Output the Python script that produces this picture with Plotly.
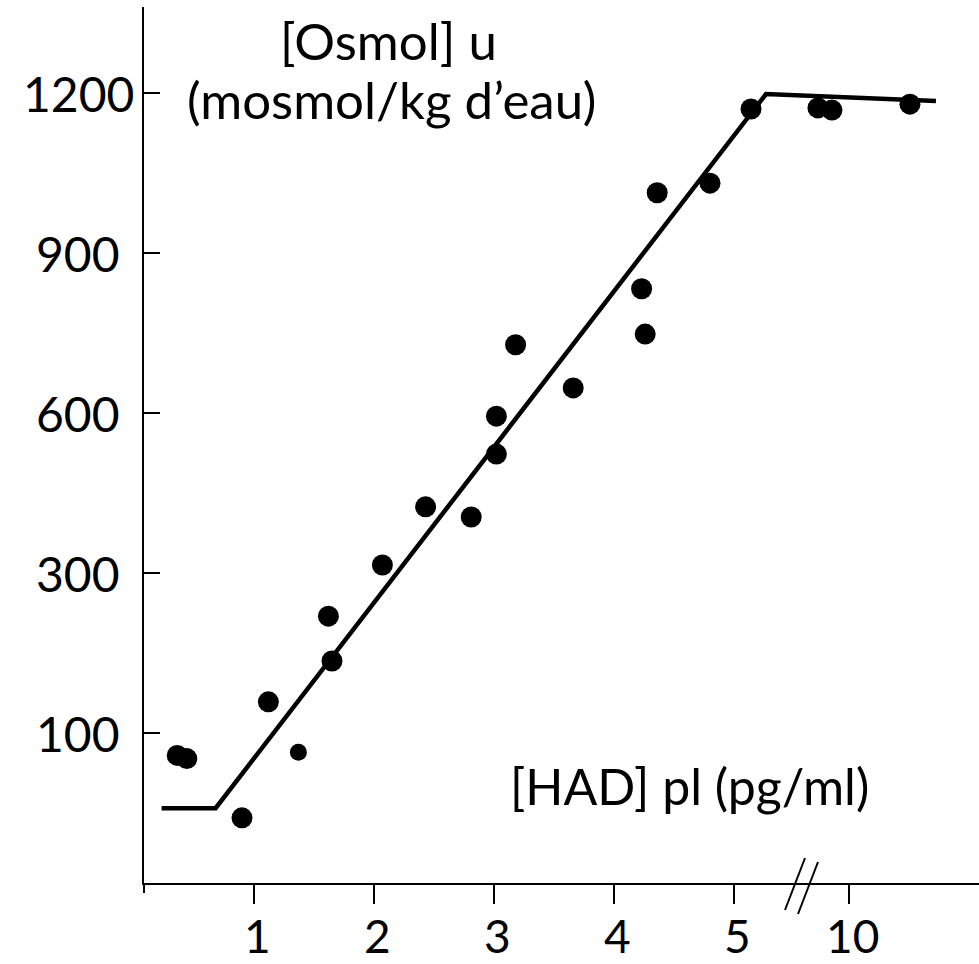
import numpy as np
import plotly.graph_objects as go

# ---------------- data ----------------
had = [0.36, 0.44, 0.90, 1.12, 1.62, 1.65, 2.07, 2.43, 2.81, 3.02, 3.02,
       3.18, 3.66, 4.26, 4.23, 4.36, 4.80, 5.74, 8.65, 9.26, 12.65]
osm = [86, 84, 47, 139, 246, 190, 315, 424, 405, 523, 594,
       728, 647, 748, 833, 1013, 1031, 1170, 1172, 1168, 1179]
had_small = [1.37]
osm_small = [88]

fit_had = [0.23, 0.68, 6.39, 13.78]
fit_osm = [53, 53, 1198, 1185]

x_tick_vals = [1, 2, 3, 4, 5, 10]
x_tick_text = ["1", "2", "3", "4", "5", "10"]
y_tick_vals = [0, 100, 300, 600, 900, 1200]
y_tick_text = ["0", "100", "300", "600", "900", "1200"]

# ---------------- axis scales (broken / non-linear) ----------------
BREAK_AT = 5.0
BREAK_SCALE = 0.9583 / 5.0   # compressed scale after the axis break


def x_pos(x):
    x = np.asarray(x, dtype=float)
    return np.where(x <= BREAK_AT, x, BREAK_AT + (x - BREAK_AT) * BREAK_SCALE)


def y_pos(v):
    v = np.asarray(v, dtype=float)
    idx = np.arange(len(y_tick_vals), dtype=float)
    p = np.interp(v, y_tick_vals, idx)
    over = v > y_tick_vals[-1]
    p = np.where(over, idx[-1] + (v - y_tick_vals[-1]) / 300.0, p)
    return p


FONT = "Lato"
FS = 48
FS_X = 46
FS_TITLE = 51

W, H = 979, 964
ML, MR, MT, MB = 144, 0, 7, 81
PW, PH = W - ML - MR, H - MT - MB


def px_x(px):
    return (px - ML) / PW


def px_y(py):
    return (H - MB - py) / PH


fig = go.Figure()

fig.add_trace(go.Scatter(
    x=x_pos(fit_had), y=y_pos(fit_osm), mode="lines",
    line=dict(color="black", width=4.5), hoverinfo="skip", showlegend=False,
))
fig.add_trace(go.Scatter(
    x=x_pos(had), y=y_pos(osm), mode="markers",
    marker=dict(color="black", size=21), showlegend=False,
))
fig.add_trace(go.Scatter(
    x=x_pos(had_small), y=y_pos(osm_small), mode="markers",
    marker=dict(color="black", size=17), showlegend=False,
))

# y tick labels as annotations (label "0" sits below the x axis line)
for v, t in zip(y_tick_vals, y_tick_text):
    fig.add_annotation(
        x=px_x(78), xref="paper", y=float(y_pos(v)), yref="y", text=t,
        showarrow=False, xanchor="center", yanchor="middle",
        font=dict(family=FONT, size=FS, color="black"),
    )

# x tick labels as annotations
for v, t in zip(x_tick_vals, x_tick_text):
    fig.add_annotation(
        x=float(x_pos(v)) + 0.025, xref="x", y=px_y(935), yref="paper", text=t,
        showarrow=False, xanchor="center", yanchor="middle",
        font=dict(family=FONT, size=FS_X, color="black"),
    )

# axis titles
fig.add_annotation(x=px_x(388), y=px_y(40), xref="paper", yref="paper",
                   text="[Osmol] u", showarrow=False, xanchor="center",
                   yanchor="middle", font=dict(family=FONT, size=FS_TITLE, color="black"))
fig.add_annotation(x=px_x(391), y=px_y(99), xref="paper", yref="paper",
                   text="(mosmol/kg d’eau)", showarrow=False, xanchor="center",
                   yanchor="middle", font=dict(family=FONT, size=FS_TITLE, color="black"))
fig.add_annotation(x=px_x(689), y=px_y(786), xref="paper", yref="paper",
                   text="[HAD] pl (pg/ml)", showarrow=False, xanchor="center",
                   yanchor="middle", font=dict(family=FONT, size=50, color="black"))

# axis break marks
for (x0, y0, x1, y1) in [(785, 910, 805, 858), (798, 914, 818, 862)]:
    fig.add_shape(type="line", xref="paper", yref="paper",
                  x0=px_x(x0), y0=px_y(y0), x1=px_x(x1), y1=px_y(y1),
                  line=dict(color="black", width=2))
# small stub of the y axis below the x axis
fig.add_shape(type="line", xref="paper", yref="paper",
              x0=0, y0=0, x1=0, y1=px_y(893), line=dict(color="black", width=2))

x0_pos = (ML - 134) / 120
x1_pos = (W - 134) / 120
fig.update_xaxes(
    range=[x0_pos, x1_pos], showgrid=False, zeroline=False, automargin=False,
    showline=True, linecolor="black", linewidth=2,
    tickmode="array", tickvals=x_pos(x_tick_vals),
    ticks="outside", ticklen=19, tickwidth=2, tickcolor="black",
    showticklabels=False,
)
fig.update_yaxes(
    range=[(893 - 883) / 160, (893 - 7) / 160], showgrid=False, zeroline=False,
    automargin=False,
    showline=True, linecolor="black", linewidth=2,
    tickmode="array", tickvals=y_pos(y_tick_vals[1:]),
    ticks="inside", ticklen=16, tickwidth=2, tickcolor="black",
    showticklabels=False,
)
fig.update_layout(
    width=W, height=H, autosize=False,
    margin=dict(l=ML, r=MR, t=MT, b=MB, pad=0, autoexpand=False),
    paper_bgcolor="white", plot_bgcolor="white",
    font=dict(family=FONT, size=FS, color="black"),
    showlegend=False,
)

fig.write_html("out.html", config={"displayModeBar": False})
